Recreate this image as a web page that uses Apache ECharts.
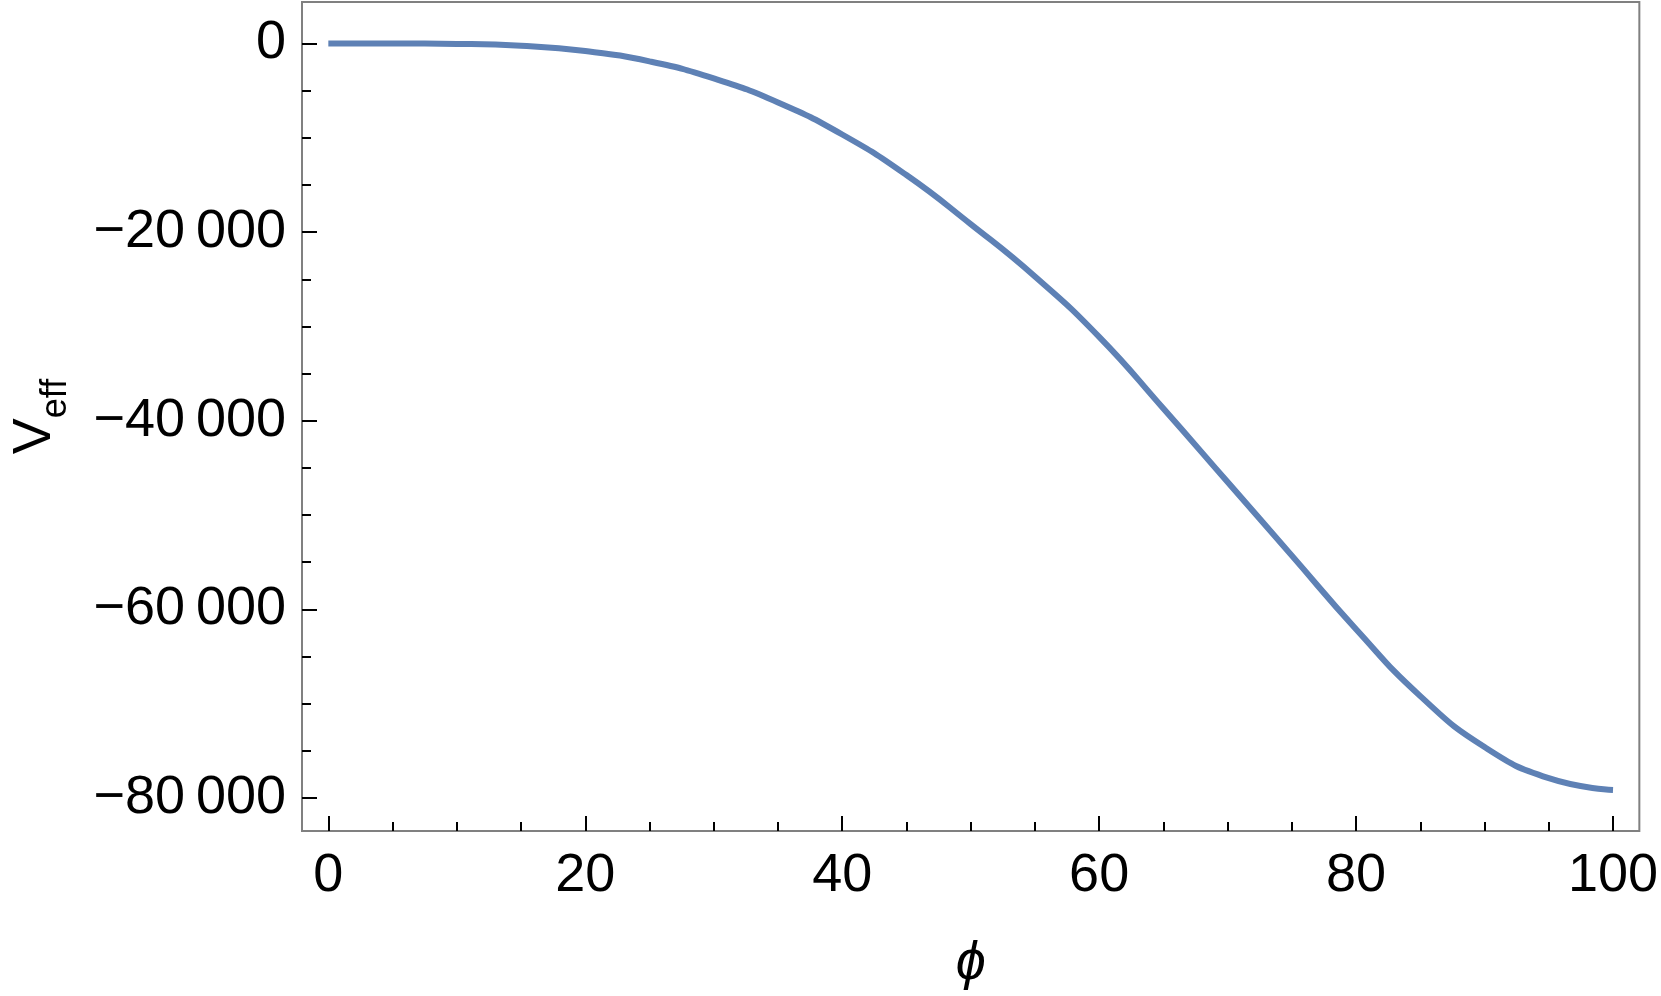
<!DOCTYPE html>
<html>
<head>
<meta charset="utf-8">
<title>V_eff</title>
<script src="https://cdn.jsdelivr.net/npm/echarts@6/dist/echarts.min.js"></script>
<style>
  html, body { margin: 0; padding: 0; background: #fff; }
  #main { width: 1661px; height: 996px; }
</style>
</head>
<body>
<div id="main"></div>
<script>
// data
var phi = [0, 5, 10, 15, 20, 25, 30, 35, 40, 45, 50, 55, 60, 65, 70, 75, 80, 85, 90, 95, 100];
var veff = [0, -5, -45, -240, -800, -1900, -3700, -6250, -9650, -13950, -19150, -24700,
  -31100, -38700, -46500, -54300, -62100, -69200, -74600, -77900, -79150];

var xMajor = [0, 20, 40, 60, 80, 100];
var xMinor = [5, 10, 15, 25, 30, 35, 45, 50, 55, 65, 70, 75, 85, 90, 95];
var yMajor = [0, -20000, -40000, -60000, -80000];
var yMinor = [-5000, -10000, -15000, -25000, -30000, -35000, -45000, -50000, -55000,
  -65000, -70000, -75000];

var font = 'Liberation Sans, Arial, sans-serif';

function fmt(v) {
  if (v === 0) return '0';
  var s = Math.abs(v).toString().replace(/\B(?=(\d{3})+(?!\d))/g, '\u2009');
  return (v < 0 ? '\u2212' : '') + s;
}

var chart = echarts.init(document.getElementById('main'));

var xRange = {min: -2.05, max: 102.05};
var yRange = {min: -83500, max: 4400};

var tickStyle = {color: '#000', width: 2};

var option = {
  animation: false,
  grid: {
    left: 299, right: 20, top: 2, bottom: 164,
    show: true, borderColor: '#808080', borderWidth: 2
  },
  xAxis: [{
    type: 'value', min: xRange.min, max: xRange.max,
    position: 'bottom',
    name: '\u03d5', nameLocation: 'middle', nameGap: 106,
    nameTextStyle: {fontFamily: font, fontSize: 54, fontStyle: 'italic', color: '#000'},
    axisLine: {show: false, onZero: false},
    splitLine: {show: false},
    axisTick: {show: true, inside: true, length: 15, customValues: xMajor, lineStyle: tickStyle},
    axisLabel: {show: true, customValues: xMajor, margin: 18, formatter: fmt,
      fontFamily: font, fontSize: 54, color: '#000'}
  }, {
    type: 'value', min: xRange.min, max: xRange.max,
    position: 'bottom',
    axisLine: {show: false, onZero: false},
    splitLine: {show: false},
    axisTick: {show: true, inside: true, length: 9, customValues: xMinor, lineStyle: tickStyle},
    axisLabel: {show: false}
  }],
  yAxis: [{
    type: 'value', min: yRange.min, max: yRange.max,
    position: 'left',
    name: '{v|V}{s|eff}', nameLocation: 'middle', nameGap: 240, nameRotate: 90,
    nameTextStyle: {
      fontFamily: font, color: '#000',
      rich: {
        v: {fontFamily: font, fontSize: 54, color: '#000', verticalAlign: 'bottom'},
        s: {fontFamily: font, fontSize: 36, color: '#000', verticalAlign: 'bottom',
          padding: [0, 0, -12, 0]}
      }
    },
    axisLine: {show: false, onZero: false},
    splitLine: {show: false},
    axisTick: {show: true, inside: true, length: 15, customValues: yMajor, lineStyle: tickStyle},
    axisLabel: {show: true, customValues: yMajor, margin: 16, formatter: fmt,
      fontFamily: font, fontSize: 54, color: '#000'}
  }, {
    type: 'value', min: yRange.min, max: yRange.max,
    position: 'left',
    axisLine: {show: false, onZero: false},
    splitLine: {show: false},
    axisTick: {show: true, inside: true, length: 9, customValues: yMinor, lineStyle: tickStyle},
    axisLabel: {show: false}
  }],
  series: [{
    type: 'line',
    xAxisIndex: 0, yAxisIndex: 0,
    data: phi.map(function (p, i) { return [p, veff[i]]; }),
    smooth: 0.5,
    showSymbol: false,
    lineStyle: {color: '#5e81b5', width: 6, cap: 'butt'}
  }]
};

chart.setOption(option);
</script>
</body>
</html>
